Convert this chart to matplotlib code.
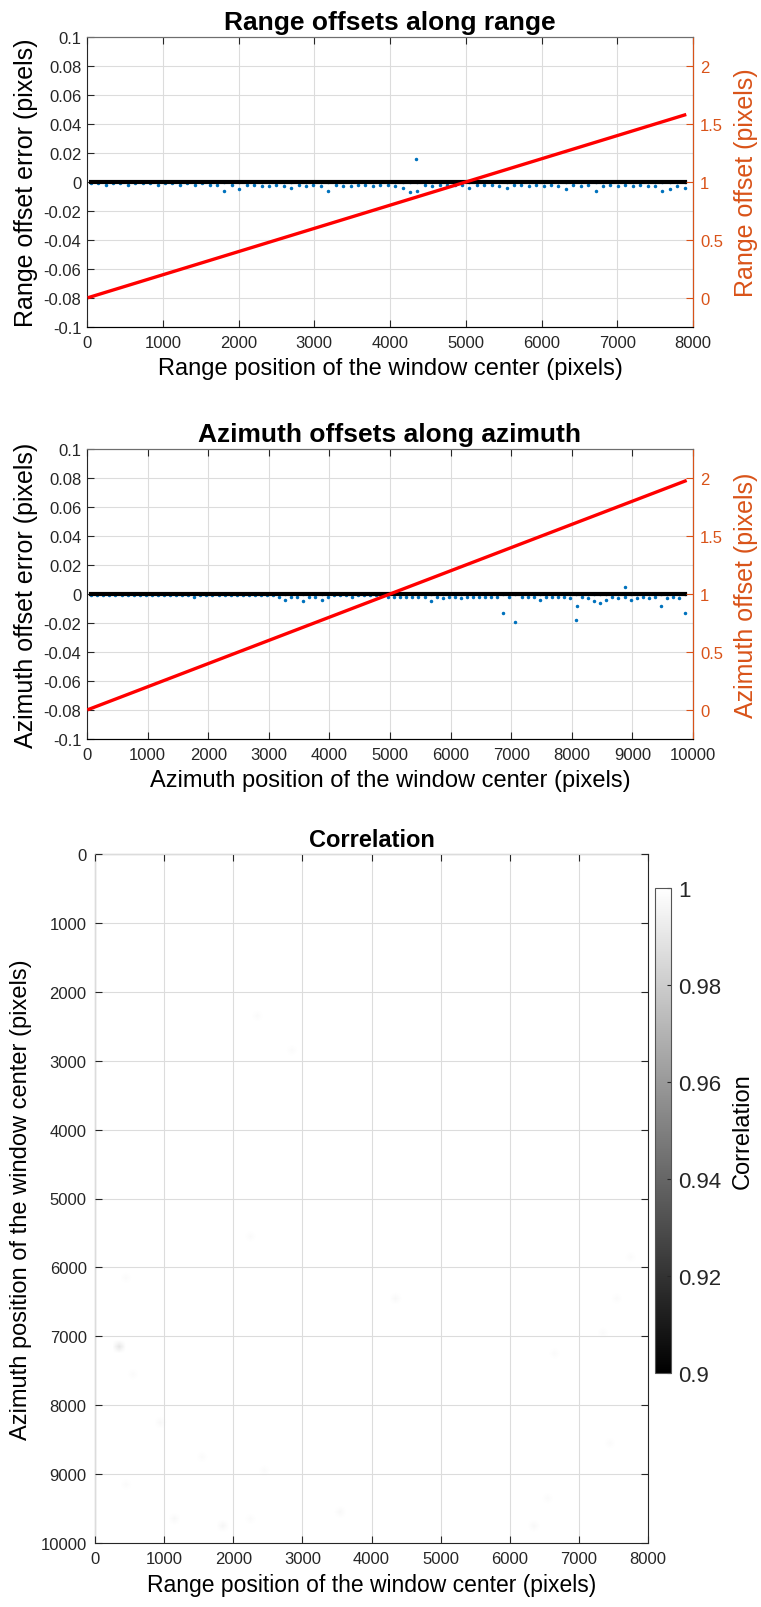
import numpy as np
import matplotlib
matplotlib.use("Agg")
import matplotlib.pyplot as plt

plt.rcParams['font.family'] = ['Liberation Sans', 'DejaVu Sans']

BLUE = '#0072BD'
ORANGE = '#D95319'
AXC = '#262626'
GRIDC = '#dcdcdc'

# ---- range offsets (top panel) ----
rg_win = np.arange(50, 7900, 98)          # window centers (range)
rg_err_low = [-0.001, -0.001, -0.002, -0.001, -0.001, -0.002, -0.001, -0.001, -0.001, -0.002,
              -0.001, -0.001, -0.002, -0.001, -0.002, -0.001, -0.002, -0.002, -0.006, -0.002,
              -0.005, -0.002, -0.002, -0.003, -0.003, -0.002, -0.003, -0.004, -0.002, -0.003,
              -0.002, -0.003, -0.006, -0.002, -0.003, -0.003, -0.002, -0.002, -0.003, -0.002,
              -0.002, -0.003, -0.004, -0.007, -0.006, -0.002, -0.003, -0.002, -0.002, -0.002,
              -0.002, -0.004, -0.002, -0.002, -0.002, -0.003, -0.004, -0.002, -0.002, -0.003,
              -0.002, -0.003, -0.002, -0.003, -0.005, -0.002, -0.003, -0.002, -0.006, -0.003,
              -0.002, -0.003, -0.002, -0.003, -0.002, -0.003, -0.003, -0.006, -0.005, -0.003,
              -0.004]
rg_out_x = [4340]
rg_out_y = [0.016]
rg_line_x = [30, 7890]      # true range offset (red)
rg_line_y = [0.006, 1.578]

# ---- azimuth offsets (middle panel) ----
az_win = np.arange(70, 9900, 100)         # window centers (azimuth)
az_err_low = [-0.001, -0.001, -0.001, -0.001, -0.001, -0.001, -0.001, -0.001, -0.001, -0.001,
              -0.001, -0.001, -0.001, -0.001, -0.001, -0.001, -0.001, -0.002, -0.001, -0.001,
              -0.001, -0.001, -0.001, -0.001, -0.001, -0.001, -0.001, -0.001, -0.001, -0.001,
              -0.001, -0.002, -0.004, -0.002, -0.002, -0.005, -0.002, -0.002, -0.004, -0.002,
              -0.001, -0.001, -0.001, -0.002, -0.001, -0.001, -0.001, -0.001, -0.001, -0.002,
              -0.002, -0.002, -0.002, -0.002, -0.002, -0.002, -0.005, -0.002, -0.003, -0.002,
              -0.002, -0.003, -0.002, -0.002, -0.002, -0.002, -0.002, -0.002, -0.013, -0.002,
              -0.019, -0.002, -0.002, -0.002, -0.004, -0.002, -0.002, -0.002, -0.002, -0.003,
              -0.018, -0.002, -0.003, -0.005, -0.006, -0.004, -0.002, -0.003, -0.002, -0.004,
              -0.003, -0.002, -0.003, -0.002, -0.008, -0.003, -0.002, -0.003, -0.013]
az_out_x = [8090, 8880]
az_out_y = [-0.008, 0.005]
az_line_x = [30, 9870]
az_line_y = [0.006, 1.974]

# ---- correlation map ----
corr_xlim = [0, 8000]
corr_ylim = [0, 10000]
corr_base = 1.0
corr_spot_x = [350, 2300, 2850, 2200, 4350, 450, 500, 900, 1500, 2400, 1150, 1850,
               2250, 3500, 6600, 7500, 7700, 7400, 6500, 6300, 450, 7300]
corr_spot_y = [7150, 2300, 2800, 5500, 6400, 6100, 7500, 8200, 8700, 8900, 9600, 9700,
               9600, 9550, 7200, 6400, 5800, 8500, 9300, 9700, 9100, 6900]
corr_spot_v = [0.990, 0.998, 0.998, 0.998, 0.997, 0.998, 0.998, 0.997, 0.998, 0.998, 0.997, 0.996,
               0.998, 0.997, 0.998, 0.998, 0.998, 0.998, 0.998, 0.997, 0.998, 0.998]


def style_ax(ax):
    ax.grid(True, color=GRIDC, linewidth=0.8)
    ax.set_axisbelow(True)
    ax.tick_params(direction='in', length=5, width=0.8, colors=AXC, labelsize=12,
                   top=True, pad=6)
    for s in ['left', 'bottom']:
        ax.spines[s].set_color(AXC)
    ax.spines['top'].set_color('#6e6e6e')


def offset_panel(ax, win, low, ox, oy, lx, ly, xmax, title, xlabel, ylabel, rlabel):
    style_ax(ax)
    ax.plot(win, np.zeros(len(win)), '.', color=BLUE, ms=3)
    ax.plot(win, low, '.', color=BLUE, ms=3)
    ax.plot(ox, oy, '.', color=BLUE, ms=3)
    ax.plot([win[0], win[-1]], [0, 0], color='black', lw=3, zorder=3)
    ax.set_xlim(0, xmax)
    ax.set_ylim(-0.1, 0.1)
    ax.set_yticks(np.arange(-0.1, 0.1001, 0.02))
    ax.set_yticklabels(['-0.1', '-0.08', '-0.06', '-0.04', '-0.02', '0',
                        '0.02', '0.04', '0.06', '0.08', '0.1'])
    ax.set_xticks(np.arange(0, xmax + 1, 1000))
    ax.tick_params(axis='y', pad=4)
    ax.set_title(title, fontsize=19, fontweight='bold', pad=6)
    ax.set_xlabel(xlabel, fontsize=17, labelpad=5)
    ax.set_ylabel(ylabel, fontsize=18, labelpad=4)

    ax2 = ax.twinx()
    ax2.plot(lx, ly, color='red', lw=2.4)
    ax2.set_ylim(-0.25, 2.25)
    ax2.set_yticks([0, 0.5, 1, 1.5, 2])
    ax2.set_yticklabels(['0', '0.5', '1', '1.5', '2'])
    ax2.tick_params(direction='in', length=5, width=0.8, colors=ORANGE, labelsize=12, pad=5)
    ax2.spines['right'].set_color(ORANGE)
    ax2.spines['left'].set_visible(False)
    ax2.spines['top'].set_color('#6e6e6e')
    ax2.set_ylabel(rlabel, fontsize=18, color=ORANGE, labelpad=8)


fig = plt.figure(figsize=(7.61, 16.08), dpi=100)

ax1 = fig.add_axes([87 / 761, 1 - 328 / 1608, 606 / 761, 290 / 1608])
offset_panel(ax1, rg_win, rg_err_low, rg_out_x, rg_out_y, rg_line_x, rg_line_y, 8000,
             'Range offsets along range', 'Range position of the window center (pixels)',
             'Range offset error (pixels)', 'Range offset (pixels)')

ax2 = fig.add_axes([87 / 761, 1 - 740 / 1608, 606 / 761, 290 / 1608])
offset_panel(ax2, az_win, az_err_low, az_out_x, az_out_y, az_line_x, az_line_y, 10000,
             'Azimuth offsets along azimuth', 'Azimuth position of the window center (pixels)',
             'Azimuth offset error (pixels)', 'Azimuth offset (pixels)')

# correlation image, 100 px windows
ny, nx = 100, 80
corr = np.full((ny, nx), corr_base)
for sx, sy, sv in zip(corr_spot_x, corr_spot_y, corr_spot_v):
    corr[int(sy / 100), int(sx / 100)] = sv

ax3 = fig.add_axes([95 / 761, 1 - 1544 / 1608, 553 / 761, 689 / 1608])
im = ax3.imshow(corr, cmap='gray', vmin=0.9, vmax=1.0, aspect='auto',
                extent=[corr_xlim[0], corr_xlim[1], corr_ylim[1], corr_ylim[0]],
                interpolation='bilinear')
ax3.grid(True, color=GRIDC, linewidth=0.8)
ax3.set_axisbelow(False)
ax3.tick_params(direction='in', length=5, width=0.8, colors=AXC, labelsize=12,
                top=True, right=True, pad=6)
for s in ax3.spines.values():
    s.set_color(AXC)
ax3.set_xticks(np.arange(0, 8001, 1000))
ax3.set_yticks(np.arange(0, 10001, 1000))
ax3.set_title('Correlation', fontsize=17, fontweight='bold', pad=6)
ax3.set_xlabel('Range position of the window center (pixels)', fontsize=16.5, labelpad=5)
ax3.set_ylabel('Azimuth position of the window center (pixels)', fontsize=17, labelpad=6)

cax = fig.add_axes([655 / 761, 1 - 1374 / 1608, 16 / 761, 485 / 1608])
cb = fig.colorbar(im, cax=cax)
cb.set_ticks([0.9, 0.92, 0.94, 0.96, 0.98, 1.0])
cb.set_ticklabels(['0.9', '0.92', '0.94', '0.96', '0.98', '1'])
cb.ax.tick_params(labelsize=16, length=3, direction='in', colors=AXC, pad=5)
cb.outline.set_edgecolor('#555555')
cb.set_label('Correlation', fontsize=17, labelpad=8)

fig.savefig('out.png', dpi=100)
